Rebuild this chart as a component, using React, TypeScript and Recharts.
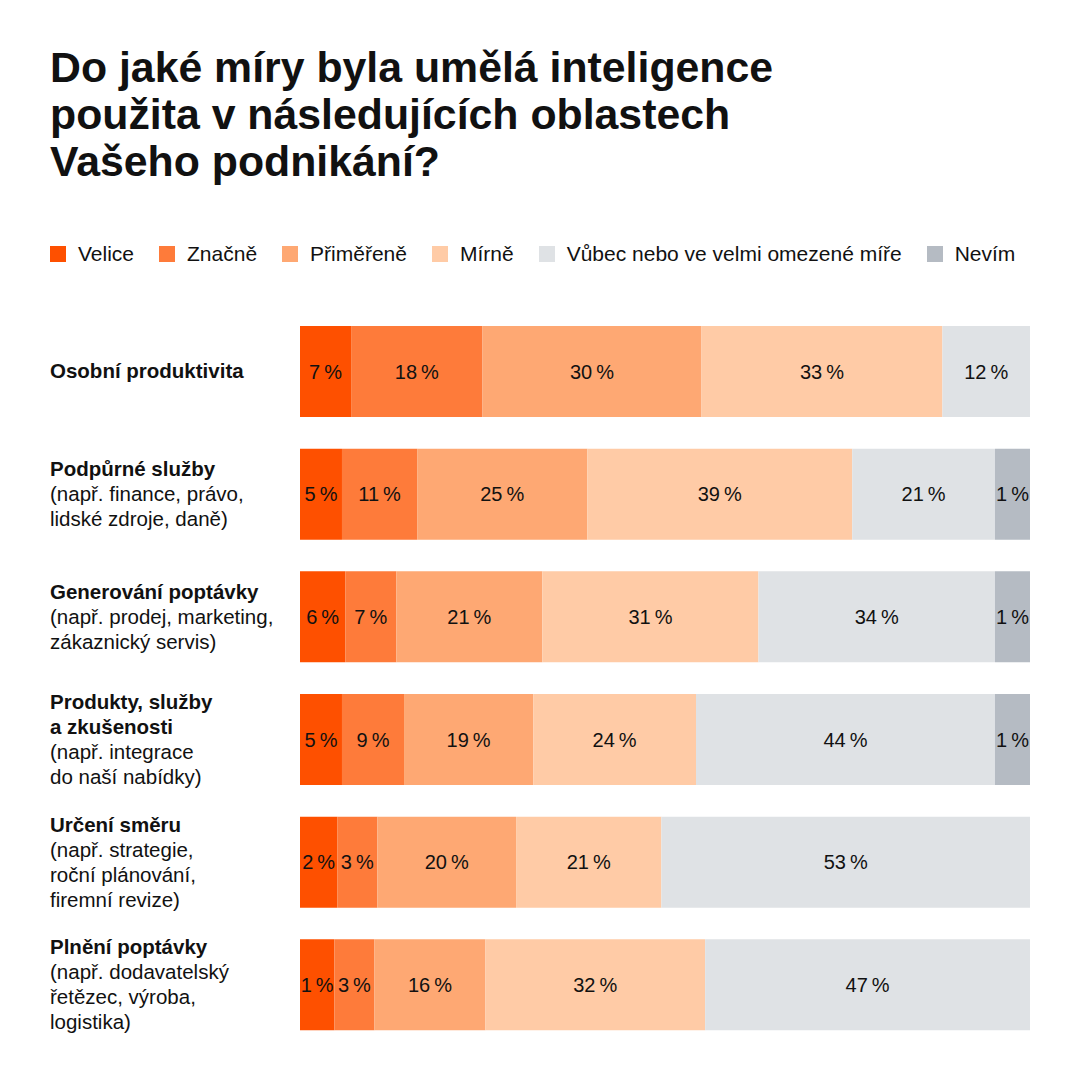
import { Bar, BarChart, LabelList, XAxis, YAxis } from "recharts";

const FONT = '"Liberation Sans", Arial, Helvetica, sans-serif';

const title = [
  "Do jaké míry byla umělá inteligence",
  "použita v následujících oblastech",
  "Vašeho podnikání?",
];

// categories: bold heading lines + regular note lines
const categories = ["osobni", "podpurne", "generovani", "produkty", "urceni", "plneni"];
const headLines = [
  ["Osobní produktivita"],
  ["Podpůrné služby"],
  ["Generování poptávky"],
  ["Produkty, služby", "a zkušenosti"],
  ["Určení směru"],
  ["Plnění poptávky"],
];
const noteLines = [
  [],
  ["(např. finance, právo,", "lidské zdroje, daně)"],
  ["(např. prodej, marketing,", "zákaznický servis)"],
  ["(např. integrace", "do naší nabídky)"],
  ["(např. strategie,", "roční plánování,", "firemní revize)"],
  ["(např. dodavatelský", "řetězec, výroba,", "logistika)"],
];

const seriesNames = ["Velice", "Značně", "Přiměřeně", "Mírně", "Vůbec nebo ve velmi omezené míře", "Nevím"];
const seriesKeys = ["velice", "znacne", "primerene", "mirne", "vubec", "nevim"];
const colors = ["#fe5000", "#fe7b3a", "#fea873", "#ffcba6", "#dfe2e5", "#b5bbc3"];

// drawn segment widths (share of bar)
const velice = [7, 5.75, 6.2, 5.75, 5.1, 4.7];
const znacne = [18, 10.3, 7.0, 8.5, 5.5, 5.5];
const primerene = [30, 23.3, 20.0, 17.7, 19.0, 15.2];
const mirne = [33, 36.3, 29.6, 22.3, 19.9, 30.1];
const vubec = [12, 19.55, 32.4, 40.95, 50.5, 44.5];
const nevim = [0, 4.8, 4.8, 4.8, 0, 0];

// printed percentages
const veliceLbl = [7, 5, 6, 5, 2, 1];
const znacneLbl = [18, 11, 7, 9, 3, 3];
const primereneLbl = [30, 25, 21, 19, 20, 16];
const mirneLbl = [33, 39, 31, 24, 21, 32];
const vubecLbl = [12, 21, 34, 44, 53, 47];
const nevimLbl = [null, 1, 1, 1, null, null];

const values = [velice, znacne, primerene, mirne, vubec, nevim];
const printed = [veliceLbl, znacneLbl, primereneLbl, mirneLbl, vubecLbl, nevimLbl];

const data = categories.map((cat, i) => {
  const row: Record<string, string | number> = { cat };
  seriesKeys.forEach((k, s) => {
    row[k] = values[s][i];
    const p = printed[s][i];
    row[k + "_lbl"] = p == null ? "" : `${p}\u2009%`;
  });
  return row;
});

function CategoryTick(props: any) {
  const { x, y, payload } = props;
  const idx = categories.indexOf(payload.value);
  const lines = [
    ...headLines[idx].map((t) => ({ t, bold: true })),
    ...noteLines[idx].map((t) => ({ t, bold: false })),
  ];
  const lh = 25;
  const start = y - ((lines.length - 1) * lh) / 2 + 7;
  return (
    <text x={x - 250} y={start} textAnchor="start" fontSize={20.5} fill="#111" fontFamily={FONT}>
      {lines.map((l, i) => (
        <tspan key={i} x={x - 250} dy={i === 0 ? 0 : lh} fontWeight={l.bold ? 700 : 400}>
          {l.t}
        </tspan>
      ))}
    </text>
  );
}

export default function App() {
  return (
    <div
      style={{
        position: "absolute",
        left: 0,
        top: 0,
        width: 1080,
        height: 1080,
        background: "#fff",
        fontFamily: FONT,
        color: "#111",
      }}
    >
      <div
        style={{
          position: "absolute",
          left: 50,
          top: 44,
          fontSize: 42.8,
          lineHeight: "47px",
          fontWeight: 700,
        }}
      >
        {title.map((t) => (
          <div key={t}>{t}</div>
        ))}
      </div>

      <div
        style={{
          position: "absolute",
          left: 50,
          top: 242,
          display: "flex",
          alignItems: "center",
          fontSize: 21,
          lineHeight: "24px",
        }}
      >
        {seriesNames.map((n, i) => (
          <div key={n} style={{ display: "flex", alignItems: "center", marginRight: 25 }}>
            <span style={{ width: 16, height: 16, background: colors[i], marginRight: 12 }} />
            <span>{n}</span>
          </div>
        ))}
      </div>

      <div style={{ position: "absolute", left: 0, top: 0 }}>
        <BarChart
          width={1080}
          height={1080}
          data={data}
          layout="vertical"
          margin={{ top: 310, right: 50, bottom: 34, left: 50 }}
        >
          <XAxis type="number" domain={[0, 100]} allowDataOverflow hide />
          <YAxis
            type="category"
            dataKey="cat"
            width={250}
            axisLine={false}
            tickLine={false}
            tickSize={0}
            tickMargin={0}
            tick={<CategoryTick />}
            interval={0}
          />
          {seriesKeys.map((k, i) => (
            <Bar
              key={k}
              dataKey={k}
              stackId="a"
              fill={colors[i]}
              barSize={91}
              isAnimationActive={false}
            >
              <LabelList
                dataKey={k + "_lbl"}
                position="center"
                fill="#111"
                fontSize={20}
                fontFamily={FONT}
              />
            </Bar>
          ))}
        </BarChart>
      </div>
    </div>
  );
}
